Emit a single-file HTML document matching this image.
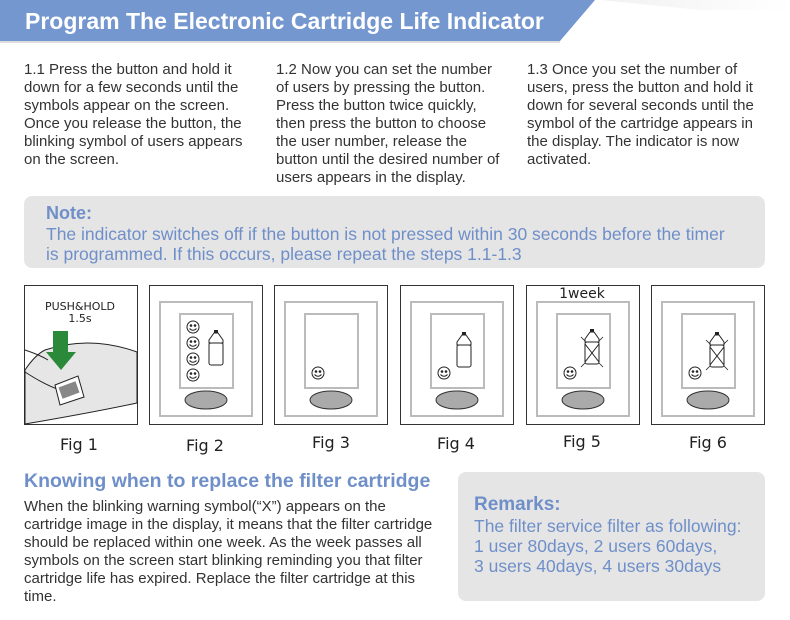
<!DOCTYPE html><html><head><style>
body{margin:0;width:790px;height:620px;background:#fff;font-family:"Liberation Sans",Arial,sans-serif;position:relative;overflow:hidden}
.a{position:absolute}
.col{font-size:15px;line-height:18px;color:#333;width:230px;top:61px}
.blue{color:#6f8fc9}
</style></head><body>
<svg class="a" style="left:0;top:0" width="790" height="50">
<defs><linearGradient id="g" x1="0" x2="1"><stop offset="0" stop-color="#e8e8e8"/><stop offset="1" stop-color="#fff"/></linearGradient></defs>
<polygon points="600,0 790,0 790,10 700,10" fill="url(#g)" opacity=".6"/>
<polygon points="0,0 595,0 560,41 0,41" fill="#7497cf"/>
<line x1="0" y1="42" x2="560" y2="42" stroke="#ddd" stroke-width="2"/>
</svg>
<div class="a" style="left:25px;top:8px;color:#fff;font-size:23px;font-weight:bold">Program The Electronic Cartridge Life Indicator</div>
<div class="a col" style="left:24px">1.1 Press the button and hold it down for a few seconds until the symbols appear on the screen. Once you release the button, the blinking symbol of users appears on the screen.</div>
<div class="a col" style="left:276px">1.2 Now you can set the number of users by pressing the button. Press the button twice quickly, then press the button to choose the user number, release the button until the desired number of users appears in the display.</div>
<div class="a col" style="left:527px">1.3 Once you set the number of users, press the button and hold it down for several seconds until the symbol of the cartridge appears in the display. The indicator is now activated.</div>
<div class="a" style="left:24px;top:196px;width:741px;height:72px;background:#e5e5e5;border-radius:8px"></div>
<div class="a blue" style="left:46px;top:203px;font-size:18px;font-weight:bold">Note:</div>
<div class="a blue" style="left:46px;top:224px;font-size:17.5px;line-height:20px;width:690px">The indicator switches off if the button is not pressed within 30 seconds before the timer is programmed. If this occurs, please repeat the steps 1.1-1.3</div>
<svg class="a" style="left:0;top:280px" width="790" height="180" font-family="DejaVu Sans,sans-serif">
<defs>
<g id="fr"><rect x="0.5" y="5.5" width="113" height="139" fill="#fff" stroke="#333"/>
<rect x="11" y="22" width="92" height="114" fill="none" stroke="#bbb" stroke-width="2"/>
<rect x="31" y="34" width="53" height="74" fill="none" stroke="#bbb" stroke-width="2"/>
<ellipse cx="57" cy="120" rx="21" ry="9" fill="#aaa" stroke="#333"/></g>
<g id="sm"><circle r="6" fill="#fff" stroke="#222"/><circle cx="-2" cy="-1.5" r="1.3" fill="#222"/><circle cx="2" cy="-1.5" r="1.3" fill="#222"/><path d="M-3.5,1.5 Q0,5 3.5,1.5" fill="none" stroke="#222"/></g>
<g id="bt"><rect x="-2" y="-14" width="4" height="3" fill="#222"/><path d="M-2,-11 L-7,-4 L-7,-1 L7,-1 L7,-4 L2,-11Z" fill="#fff" stroke="#222"/><rect x="-7" y="-1" width="14" height="22" rx="2" fill="#fff" stroke="#222"/></g>
<g id="bx"><use href="#bt"/><line x1="-7" y1="1" x2="7" y2="19" stroke="#222"/><line x1="7" y1="1" x2="-7" y2="19" stroke="#222"/><path d="M-11,-6 L-7,-2 M11,-6 L7,-2 M-11,24 L-7,20 M11,24 L7,20" stroke="#222" stroke-width=".8"/></g>
</defs>
<rect x="24.5" y="5.5" width="113" height="139" fill="#fff" stroke="#333"/>
<path d="M45,70 Q90,55 137,72 L137,123 Q90,133 25,144 L25,90 Q35,75 45,70Z" fill="#e6e6e6" stroke="#222"/>
<path d="M25,70 Q40,75 48,80 M25,92 Q45,105 60,110" fill="none" stroke="#222"/>
<polygon points="55,105 78,96 84,117 60,125" fill="#fff" stroke="#222"/>
<rect x="60" y="104" width="18" height="12" fill="#888" transform="rotate(-20 69 110)"/>
<rect x="53" y="51" width="15" height="22" fill="#2a8a3a"/><polygon points="46,72 76,72 61,90" fill="#2a8a3a"/>
<text x="80" y="30" font-size="11" text-anchor="middle" fill="#222">PUSH&amp;HOLD</text>
<text x="80" y="42" font-size="11" text-anchor="middle" fill="#222">1.5s</text>
<use href="#fr" x="149" y="0"/>
<use href="#sm" x="193" y="47"/><use href="#sm" x="193" y="63"/><use href="#sm" x="193" y="79"/><use href="#sm" x="193" y="95"/>
<use href="#bt" x="216" y="64"/>
<use href="#fr" x="274" y="0"/><use href="#sm" x="318" y="93"/>
<use href="#fr" x="400" y="0"/><use href="#sm" x="444" y="93"/><use href="#bt" x="464" y="66"/>
<use href="#fr" x="526" y="0"/><use href="#sm" x="570" y="93"/><use href="#bx" x="592" y="63"/>
<text x="582" y="18" font-size="14" text-anchor="middle" fill="#222">1week</text>
<use href="#fr" x="651" y="0"/><use href="#sm" x="695" y="93"/><use href="#bx" x="717" y="66"/>
<g font-size="16" fill="#222" text-anchor="middle"><text x="79" y="170">Fig 1</text><text x="205" y="171">Fig 2</text><text x="331" y="168">Fig 3</text><text x="456" y="169">Fig 4</text><text x="582" y="167">Fig 5</text><text x="708" y="168">Fig 6</text></g>
</svg>
<div class="a blue" style="left:24px;top:470px;font-size:19.5px;font-weight:bold">Knowing when to replace the filter cartridge</div>
<div class="a" style="left:24px;top:498px;width:415px;font-size:15px;line-height:18px;color:#333">When the blinking warning symbol(“X”) appears on the cartridge image in the display, it means that the filter cartridge should be replaced within one week. As the week passes all symbols on the screen start blinking reminding you that filter cartridge life has expired. Replace the filter cartridge at this time.</div>
<div class="a" style="left:458px;top:472px;width:307px;height:129px;background:#e5e5e5;border-radius:8px"></div>
<div class="a blue" style="left:474px;top:494px;font-size:19px;font-weight:bold">Remarks:</div>
<div class="a blue" style="left:474px;top:516px;font-size:17.5px;line-height:20px;width:290px;white-space:nowrap">The filter service filter as following:<br>1 user 80days, 2 users 60days,<br>3 users 40days, 4 users 30days</div>
</body></html>
